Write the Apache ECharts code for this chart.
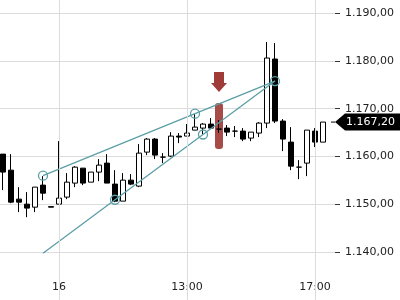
<!DOCTYPE html>
<html><head><meta charset="utf-8">
<script src="https://cdn.jsdelivr.net/npm/echarts@6/dist/echarts.min.js"></script>
<style>html,body{margin:0;padding:0;background:#fff}#c{width:400px;height:300px}</style>
</head><body><div id="c"></div>
<script>
// candle values (price x1000)
const openP  = [1160.50,1157.15,1151.09,1150.04,1149.41,1154.02,1149.52,1150.04,1151.51,1154.44,1157.57,1154.64,1156.74,1158.62,1154.23,1150.67,1155.06,1153.81,1160.92,1163.64,1159.87,1160.08,1164.27,1164.27,1165.52,1165.94,1166.78,1165.73,1165.94,1165.31,1165.31,1163.85,1164.90,1166.99,1180.38,1167.41,1163.01,1157.78,1158.62,1165.31,1163.01];
const closeP = [1156.74,1150.46,1150.46,1149.21,1153.60,1152.34,1149.41,1151.30,1154.64,1157.78,1154.44,1156.74,1158.20,1154.44,1150.67,1155.06,1154.23,1160.71,1163.64,1160.29,1159.87,1164.27,1164.06,1164.90,1166.15,1166.78,1165.94,1165.73,1165.10,1165.31,1163.64,1165.10,1166.99,1180.59,1167.41,1163.64,1157.99,1157.78,1165.52,1163.01,1167.20];
const lowP   = [1152.97,1150.25,1148.37,1147.32,1148.37,1150.88,1149.41,1150.04,1151.09,1153.60,1154.02,1154.64,1154.85,1154.44,1150.46,1150.67,1154.02,1153.60,1160.29,1159.46,1158.62,1159.87,1162.80,1164.27,1165.52,1164.69,1165.94,1164.90,1164.27,1164.06,1163.22,1163.22,1164.06,1165.94,1166.99,1161.13,1157.15,1155.27,1155.90,1161.97,1163.01];
const highP  = [1160.50,1160.50,1153.60,1152.55,1153.60,1155.90,1149.52,1163.22,1156.53,1157.99,1157.57,1156.74,1159.46,1160.50,1157.15,1156.53,1156.32,1162.59,1163.85,1163.85,1160.71,1165.10,1164.90,1166.78,1168.87,1166.99,1168.03,1167.62,1166.57,1166.36,1165.94,1165.10,1167.20,1183.93,1183.72,1167.82,1166.15,1159.25,1165.52,1165.94,1167.20];
const slotCount = 42;
const xTickIndex = [7, 23, 39];
const xTickLabels = ['16', '13:00', '17:00'];
const yMin = 1130, yMax = 1193.35, yInterval = 10;
// trend lines [slot, price]
const upperTrend = [[5, 1156.0], [24, 1168.95], [34, 1175.77]];
const upperMarks = [true, true, true];
const lowerTrend = [[5, 1139.79], [14, 1150.96], [25, 1164.60], [34, 1175.77]];
const lowerMarks = [false, true, true, false];
// signal marker: slot, bar top, bar bottom, arrow top, arrow tip
const signal = [27, 1171.17, 1161.55, 1177.66, 1173.47];
const lastPrice = 1167.20;

function fmt(v){
  const s = Number(v).toFixed(2);
  let [i, d] = s.split('.');
  i = i.replace(/\B(?=(\d{3})+(?!\d))/g, '.');
  return i + ',' + d;
}
const FONT = 'DejaVu Sans';
const TEAL = '#5b9fa6';
const RED = '#a03c38';
const cats = Array.from({length: slotCount}, (_, i) => String(i));
const candles = openP.map((o, i) => [o, closeP[i], lowP[i], highP[i]]);
const mkPts = (arr, marks) => arr.map((p, i) => marks[i] ? {value: p} : {value: p, symbol: 'none'});
const trendStyle = {
  symbol: 'circle', symbolSize: 9, showSymbol: true, showAllSymbol: true, z: 4,
  lineStyle: {color: TEAL, width: 1.3},
  itemStyle: {color: 'rgba(255,255,255,0)', borderColor: TEAL, borderWidth: 1.3}
};

const chart = echarts.init(document.getElementById('c'), null, {renderer: 'canvas'});
chart.setOption({
  animation: false,
  backgroundColor: '#fff',
  grid: {left: -1, top: -3, width: 336, height: 303, containLabel: false, outerBoundsMode: 'none'},
  xAxis: {
    type: 'category', data: cats, boundaryGap: true,
    axisLine: {show: false},
    axisTick: {show: true, inside: true, length: 3, alignWithLabel: true,
      interval: (i) => xTickIndex.includes(i), lineStyle: {color: '#333'}},
    axisLabel: {inside: true, margin: 7, fontSize: 11, fontFamily: FONT, color: '#222',
      interval: (i) => xTickIndex.includes(i),
      formatter: (v, i) => { const k = xTickIndex.indexOf(i); return k >= 0 ? xTickLabels[k] : ''; }},
    splitLine: {show: false}
  },
  yAxis: {
    type: 'value', position: 'right', min: yMin, max: yMax, interval: yInterval,
    axisLine: {show: false},
    axisTick: {show: true, length: 5, lineStyle: {color: '#333'}},
    axisLabel: {fontSize: 11, fontFamily: FONT, color: '#222', margin: 10,
      showMinLabel: false, showMaxLabel: false, formatter: fmt},
    splitLine: {show: true, lineStyle: {color: '#dcdcdc', width: 1}}
  },
  series: [
    {type: 'line', data: [], z: 1, silent: true,
      markLine: {silent: true, symbol: 'none', label: {show: false},
        lineStyle: {color: '#dcdcdc', width: 1, type: 'solid'},
        data: xTickIndex.map(i => ({xAxis: i}))}},
    {type: 'custom', z: 2, clip: false, encode: {x: 0, y: [1, 2, 3, 4]},
      data: [signal],
      renderItem: (params, api) => {
        const x = api.coord([api.value(0), api.value(1)])[0];
        const yT = api.coord([api.value(0), api.value(1)])[1];
        const yB = api.coord([api.value(0), api.value(2)])[1];
        const yA = api.coord([api.value(0), api.value(3)])[1];
        const yTip = api.coord([api.value(0), api.value(4)])[1];
        const yS = yA + (yTip - yA) * 0.55;
        return {type: 'group', children: [
          {type: 'rect', shape: {x: x - 4, y: yT, width: 8, height: yB - yT, r: 3}, style: {fill: RED, opacity: 0.92}},
          {type: 'polygon', shape: {points: [[x - 5, yA], [x + 5, yA], [x + 5, yS], [x + 8, yS], [x, yTip], [x - 8, yS], [x - 5, yS]]}, style: {fill: RED}}
        ]};
      }},
    {type: 'candlestick', z: 3, data: candles, barWidth: 5,
      itemStyle: {color: '#fff', color0: '#000', borderColor: '#000', borderColor0: '#000', borderColorDoji: '#000', borderWidth: 1}},
    Object.assign({type: 'line', data: mkPts(upperTrend, upperMarks)}, trendStyle),
    Object.assign({type: 'line', data: mkPts(lowerTrend, lowerMarks)}, trendStyle),
    {type: 'custom', z: 5, clip: false, encode: {x: 0, y: 1},
      data: [[openP.length - 1, lastPrice]],
      renderItem: (params, api) => {
        const y = api.coord([api.value(0), api.value(1)])[1];
        const R = params.coordSys.x + params.coordSys.width;
        return {type: 'group', children: [
          {type: 'line', shape: {x1: R - 4, y1: y, x2: R, y2: y}, style: {stroke: '#000', lineWidth: 1}},
          {type: 'polygon', shape: {points: [[R, y], [R + 10, y - 8.5], [400, y - 8.5], [400, y + 8.5], [R + 10, y + 8.5]]}, style: {fill: '#000'}},
          {type: 'text', x: R + 11, y: y, style: {text: fmt(api.value(1)), fill: '#fff', font: '11px "DejaVu Sans"', verticalAlign: 'middle', textVerticalAlign: 'middle', align: 'left'}}
        ]};
      }}
  ]
});
</script></body></html>
